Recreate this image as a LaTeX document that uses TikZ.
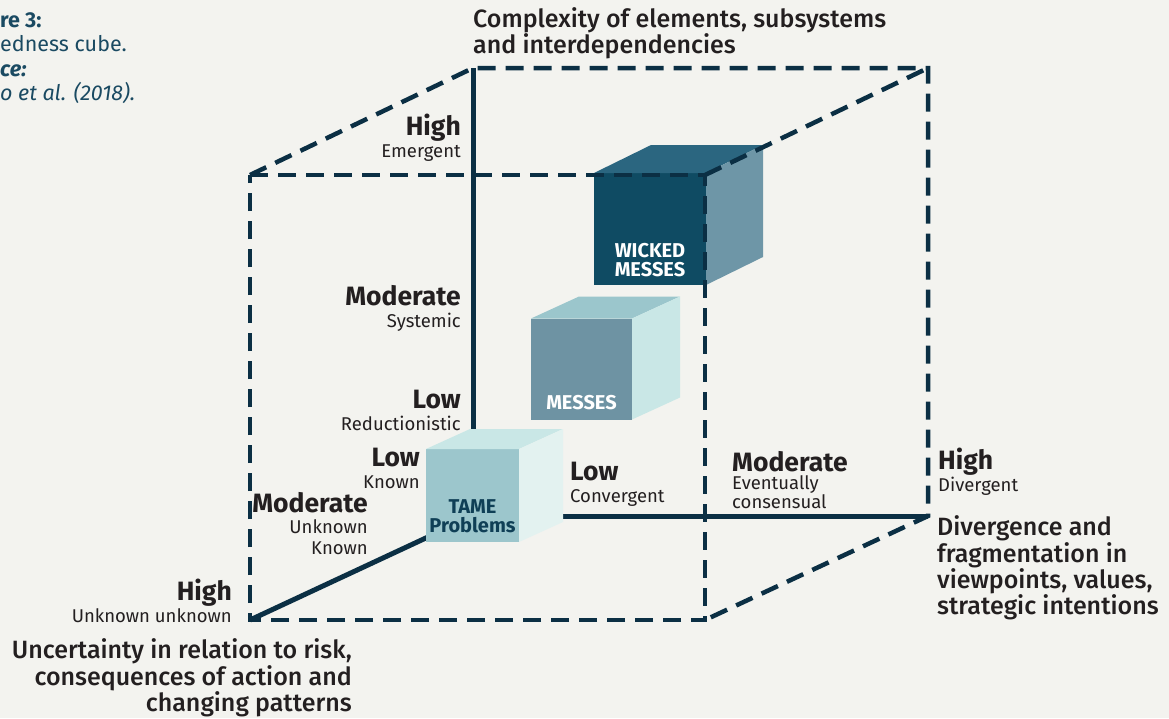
\documentclass[tikz,border=0pt]{standalone}
\usepackage{fontspec}
\setmainfont{Fira Sans}
\newfontfamily\mediumfont{Fira Sans Medium}
\usetikzlibrary{positioning}

\definecolor{edge}{HTML}{0B2F44}
\definecolor{paper}{HTML}{F3F3EF}
\definecolor{ink}{HTML}{231F20}
\definecolor{captionblue}{HTML}{1A4A62}
\definecolor{wickedfront}{HTML}{0F4B63}
\definecolor{wickedtop}{HTML}{2B6680}
\definecolor{wickedside}{HTML}{6E96A7}
\definecolor{messfront}{HTML}{6E93A3}
\definecolor{messtop}{HTML}{9BC6CC}
\definecolor{messside}{HTML}{C9E7E6}
\definecolor{tamefront}{HTML}{9CC6CC}
\definecolor{tametop}{HTML}{C9E7E6}
\definecolor{tameside}{HTML}{E3F2F0}
\definecolor{tametext}{HTML}{0F3F56}

\tikzset{
    axisline/.style={draw=edge, line width=5pt},
    hiddenline/.style={draw=edge, line width=4.5pt, dash pattern=on 18pt off 10pt},
    level/.style={font=\fontsize{18.5}{22}\selectfont, text=ink, inner sep=0pt},
    axistitle/.style={font=\mediumfont\fontsize{25}{26.3}\selectfont, text=ink, inner sep=0pt},
    cubeface/.style={inner sep=0pt, outer sep=0pt},
    cubelabel/.style={font=\fontsize{20}{19}\selectfont\bfseries, inner sep=0pt, align=center},
}
\newcommand{\lvl}[1]{{\fontsize{26.5}{26}\selectfont\bfseries #1}}

\begin{document}
\begin{tikzpicture}[x=1pt, y=-1pt]

        \fill[paper] (0,0) rectangle (1169,718);
        \useasboundingbox (0,0) rectangle (1169,718);

        % corners of the cube
        \coordinate (flt) at (250,175);
        \coordinate (frt) at (705,175);
        \coordinate (flb) at (250,620);
        \coordinate (frb) at (705,620);
        \coordinate (blt) at (473,68);
        \coordinate (brt) at (928,68);
        \coordinate (blb) at (473,516);
        \coordinate (brb) at (928,516);

        \draw[axisline] (blt) -- (blb) -- (brb);
        \draw[axisline] (flb) -- (blb);

        % the three problem cubes
        \foreach \nm/\cx/\cy/\w/\dx/\dy/\front/\top/\side in {
            wicked/650/229/112/57/28/wickedfront/wickedtop/wickedside,
            messes/581.5/369/101/48/22/messfront/messtop/messside,
            tame/472.5/495.5/93/44/20/tamefront/tametop/tameside} {
            \node[cubeface, fill=\front, minimum width=\w pt, minimum height=\w pt] (\nm) at (\cx,\cy) {};
            \fill[\top] (\nm.north west) -- ++(\dx,-\dy) -- ++(\w,0) -- (\nm.north east) -- cycle;
            \fill[\side] (\nm.north east) -- ++(\dx,-\dy) -- ++(0,\w) -- (\nm.south east) -- cycle;
        }

        \node[cubelabel, text=white, above=8pt of wicked.south, anchor=south] (wickedtext) {WICKED\\MESSES};
        \node[cubelabel, text=white, above=9pt of messes.south, anchor=south] (messestext) {MESSES};
        \node[cubelabel, text=tametext, above=9pt of tame.south, anchor=south] (tametext) {TAME\\Problems};

        \draw[hiddenline] (flt) -- (frt) -- (frb) -- (flb) -- cycle;
        \draw[hiddenline] (flt) -- (blt) -- (brt) -- (brb) -- (frb);
        \draw[hiddenline] (frt) -- (brt);

        % complexity axis
        \node[axistitle, anchor=west, align=left] (complexity) at (473,33) {Complexity of elements, subsystems\\and interdependencies};
        \node[level, anchor=east, align=right] (complexhigh) at (461,138) {\lvl{High}\\Emergent};
        \node[level, anchor=east, align=right] (complexmod) at (461,308) {\lvl{Moderate}\\Systemic};
        \node[level, anchor=east, align=right] (complexlow) at (461,410) {\lvl{Low}\\Reductionistic};

        % uncertainty axis
        \node[level, anchor=east, align=right] (uncertlow) at (420,468) {\lvl{Low}\\Known};
        \node[level, anchor=east, align=right, font=\fontsize{18.5}{21}\selectfont] (uncertmod) at (368,524) {\lvl{Moderate}\\Unknown\\Known};
        \node[level, anchor=east, align=right] (uncerthigh) at (232,601) {\lvl{High}\\Unknown unknown};
        \node[axistitle, anchor=east, align=right] (uncertainty) at (352,678) {Uncertainty in relation to risk,\\consequences of action and\\changing patterns};

        % divergence axis
        \node[level, anchor=west, align=left] (divlow) at (570,484) {\lvl{Low}\\Convergent};
        \node[level, anchor=west, align=left, font=\fontsize{18.5}{18.5}\selectfont] (divmod) at (732,480) {\lvl{Moderate}\\Eventually\\consensual};
        \node[level, anchor=west, align=left] (divhigh) at (938,472) {\lvl{High}\\Divergent};
        \node[axistitle, anchor=west, align=left] (divergence) at (937,568) {Divergence and\\fragmentation in\\viewpoints, values,\\strategic intentions};

        % caption, cut at the left edge
        \node[anchor=north west, align=left, inner sep=0pt, text=captionblue, font=\fontsize{21.5}{24.5}\selectfont] (caption) at (0,12)
            {{\bfseries re 3:}\\edness cube.\\{\bfseries\itshape ce:}\\{\itshape o et al. (2018).}};

\end{tikzpicture}
\end{document}
